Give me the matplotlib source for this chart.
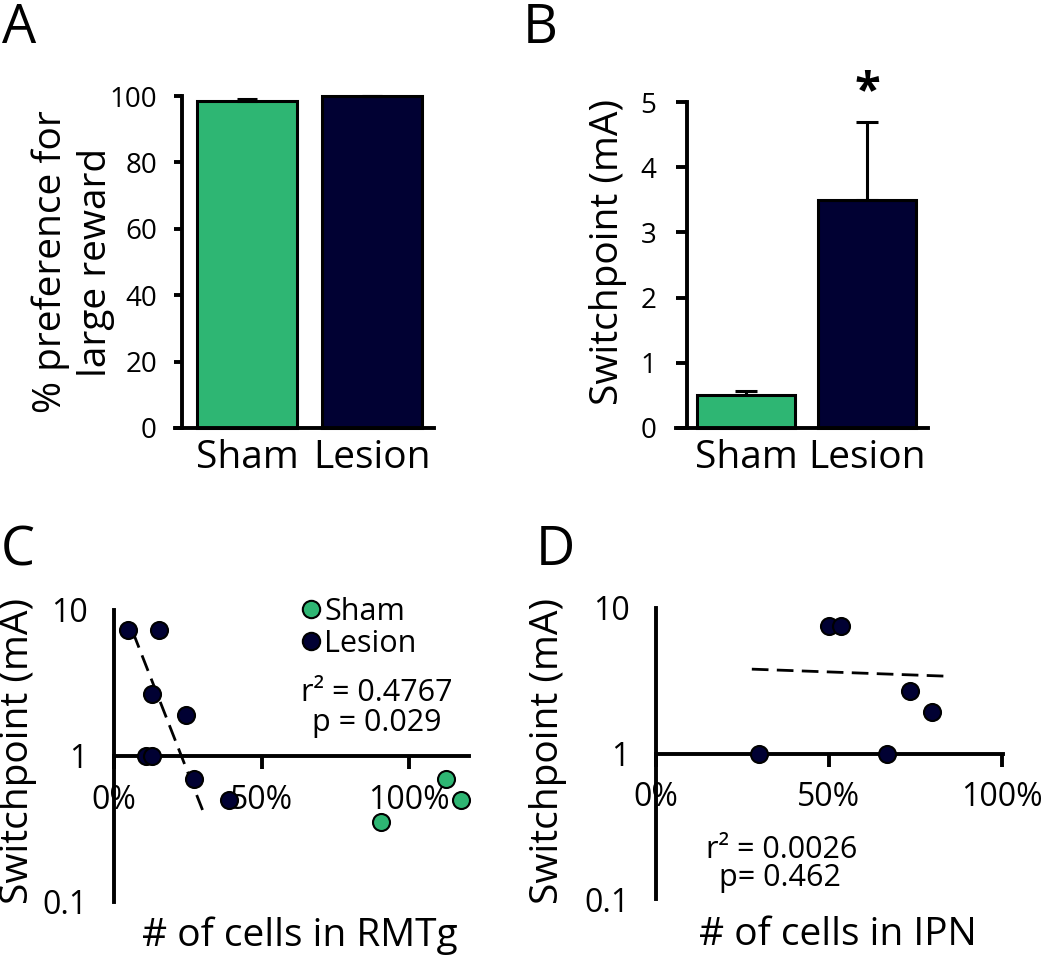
import matplotlib
matplotlib.use("Agg")
import matplotlib.pyplot as plt
from matplotlib.lines import Line2D
import numpy as np

plt.rcParams['font.family'] = ['Open Sans', 'DejaVu Sans']

# ---------------- data ----------------
groups = ["Sham", "Lesion"]
pref_mean = [98.5, 100.0]
pref_err = [0.6, 0.0]
switch_mean = [0.5, 3.5]
switch_err = [0.06, 1.2]

rmtg_lesion_x = [4.7, 15.3, 12.9, 24.3, 11.0, 13.0, 27.1, 39.0]
rmtg_lesion_y = [7.3, 7.3, 2.66, 1.91, 1.0, 1.0, 0.695, 0.50]
rmtg_sham_x = [112.5, 117.6, 90.5]
rmtg_sham_y = [0.695, 0.50, 0.353]
rmtg_trend_x = [6.4, 30.0]
rmtg_trend_y = [7.06, 0.427]

ipn_lesion_x = [50.0, 53.5, 73.4, 79.8, 29.8, 66.8]
ipn_lesion_y = [7.5, 7.5, 2.67, 1.92, 1.0, 1.0]
ipn_trend_x = [27.7, 83.8]
ipn_trend_y = [3.8, 3.4]

pct_ticks = [0, 50, 100]
pct_labels = ["0%", "50%", "100%"]
log_ticks = [0.1, 1, 10]
log_labels = ["0.1", "1", "10"]

GREEN = "#2EB673"
NAVY = "#010133"

W, H = 1050, 957
fig = plt.figure(figsize=(W / 100, H / 100), dpi=100)


def ax_px(l, t, r, b):
    return fig.add_axes([l / W, 1 - b / H, (r - l) / W, (b - t) / H])


TICK_FS = 20
SC_TICK_FS = 23
LAB_FS = 28
CAT_FS = 28
SPINE_LW = 2.8

# ---------------- Panel A ----------------
axA = ax_px(175, 96, 434, 428)
xA = np.arange(len(groups))
axA.bar(xA, pref_mean, width=0.8, color=[GREEN, NAVY], edgecolor="black",
        linewidth=2.2, clip_on=False, zorder=2)
axA.errorbar(xA, pref_mean, yerr=[[0, 0], pref_err], fmt="none", ecolor="black",
             elinewidth=2.2, capsize=7, capthick=2.2, clip_on=False, zorder=3)
axA.set_xlim(-0.576, 1.496)
axA.set_ylim(0, 100)
axA.set_yticks([0, 20, 40, 60, 80, 100])
axA.set_xticks(xA)
axA.set_xticklabels(groups, fontsize=CAT_FS)
axA.tick_params(axis="x", length=0, pad=8)
axA.tick_params(axis="y", labelsize=TICK_FS, length=6, width=SPINE_LW, pad=12)
for s in ["top", "right"]:
    axA.spines[s].set_visible(False)
axA.spines["left"].set_position(("data", -0.52))
for s in ["left", "bottom"]:
    axA.spines[s].set_linewidth(SPINE_LW)
axA.set_ylabel("% preference for\nlarge reward", fontsize=LAB_FS, linespacing=1.25)
axA.yaxis.set_label_coords((115 - 175) / 259, 0.5)

# ---------------- Panel B ----------------
axB = ax_px(676, 102, 928, 428)
xB = np.arange(len(groups))
axB.bar(xB, switch_mean, width=0.81, color=[GREEN, NAVY], edgecolor="black",
        linewidth=2.2, clip_on=False, zorder=2)
axB.errorbar(xB, switch_mean, yerr=[[0, 0], switch_err], fmt="none", ecolor="black",
             elinewidth=2.2, capsize=8, capthick=2.2, clip_on=False, zorder=1)
axB.set_xlim(-0.579, 1.5)
axB.set_ylim(0, 5)
axB.set_yticks([0, 1, 2, 3, 4, 5])
axB.set_xticks(xB)
axB.set_xticklabels(groups, fontsize=CAT_FS)
axB.tick_params(axis="x", length=0, pad=8)
axB.tick_params(axis="y", labelsize=TICK_FS, length=8, width=SPINE_LW, pad=14)
for s in ["top", "right"]:
    axB.spines[s].set_visible(False)
axB.spines["left"].set_position(("data", -0.488))
for s in ["left", "bottom"]:
    axB.spines[s].set_linewidth(SPINE_LW)
axB.set_ylabel("Switchpoint (mA)", fontsize=LAB_FS)
axB.yaxis.set_label_coords((627 - 676) / 252, (428 - 252) / 326)
axB.text(1, switch_mean[1] + switch_err[1] + 0.45, "*", ha="center", va="center",
         fontsize=34, fontweight="bold")


def style_scatter_ax(ax, xmax):
    ax.set_yscale("log")
    ax.set_ylim(0.1, 10)
    ax.set_xlim(0, xmax)
    ax.set_yticks(log_ticks)
    ax.set_yticklabels(log_labels)
    ax.yaxis.set_minor_locator(matplotlib.ticker.NullLocator())
    ax.set_xticks(pct_ticks)
    ax.set_xticklabels(pct_labels)
    ax.tick_params(axis="x", labelsize=SC_TICK_FS, length=9, width=SPINE_LW, pad=11,
                   direction="out")
    ax.tick_params(axis="y", labelsize=SC_TICK_FS, length=0, pad=19)
    for s in ["top", "right"]:
        ax.spines[s].set_visible(False)
    ax.spines["bottom"].set_position(("data", 1))
    for s in ["left", "bottom"]:
        ax.spines[s].set_linewidth(SPINE_LW)
    ax.set_ylabel("Switchpoint (mA)", fontsize=LAB_FS)


# ---------------- Panel C ----------------
axC = ax_px(114, 610, 469, 902)
style_scatter_ax(axC, 120.3)
axC.plot(rmtg_trend_x, rmtg_trend_y, color="black", lw=2, ls=(0, (6, 3)), zorder=3)
axC.scatter(rmtg_lesion_x, rmtg_lesion_y, s=150, color=NAVY, edgecolor="black",
            linewidth=1.5, zorder=5, clip_on=False)
axC.scatter(rmtg_sham_x, rmtg_sham_y, s=150, color=GREEN, edgecolor="black",
            linewidth=1.5, zorder=5, clip_on=False)
axC.yaxis.set_label_coords((37 - 114) / 355, (902 - 751) / 292)
axC.set_xlabel("# of cells in RMTg", fontsize=LAB_FS)
axC.xaxis.set_label_coords((300 - 114) / 355, -(916 - 902) / 292)
handles = [Line2D([], [], marker="o", ls="none", markersize=12.5, markerfacecolor=GREEN,
                  markeredgecolor="black", markeredgewidth=1.5),
           Line2D([], [], marker="o", ls="none", markersize=12.5, markerfacecolor=NAVY,
                  markeredgecolor="black", markeredgewidth=1.5)]
axC.legend(handles, groups, loc="upper left", bbox_to_anchor=((300 - 114) / 355, (902 - 597) / 292),
           frameon=False, fontsize=22, handlelength=0.7, handletextpad=0.1,
           borderpad=0, borderaxespad=0, labelspacing=0.05)
axC.text((377 - 114) / 355, (902 - 693) / 292, "r² = 0.4767", transform=axC.transAxes,
         ha="center", va="center", fontsize=22)
axC.text((377 - 114) / 355, (902 - 723) / 292, "p = 0.029", transform=axC.transAxes,
         ha="center", va="center", fontsize=22)

# ---------------- Panel D ----------------
axD = ax_px(656, 608, 1003, 899)
style_scatter_ax(axD, 100.3)
axD.plot(ipn_trend_x, ipn_trend_y, color="black", lw=2, ls=(0, (6, 3)), zorder=3)
axD.scatter(ipn_lesion_x, ipn_lesion_y, s=150, color=NAVY, edgecolor="black",
            linewidth=1.5, zorder=5, clip_on=False)
axD.yaxis.set_label_coords((567 - 656) / 347, (899 - 751) / 291)
axD.set_xlabel("# of cells in IPN", fontsize=LAB_FS)
axD.xaxis.set_label_coords((838 - 656) / 347, -(916 - 899) / 291)
axD.text((782 - 656) / 347, (899 - 850) / 291, "r² = 0.0026", transform=axD.transAxes,
         ha="center", va="center", fontsize=22)
axD.text((780 - 656) / 347, (899 - 878) / 291, "p= 0.462", transform=axD.transAxes,
         ha="center", va="center", fontsize=22)

# ---------------- panel letters ----------------
for lab, px, py, va in [("A", 19, 1, "top"), ("B", 540, 1, "top"),
                        ("C", 18, 565, "baseline"), ("D", 555, 565, "baseline")]:
    fig.text(px / W, 1 - py / H, lab, fontsize=39, ha="center", va=va)

fig.savefig("out.png", dpi=100)
